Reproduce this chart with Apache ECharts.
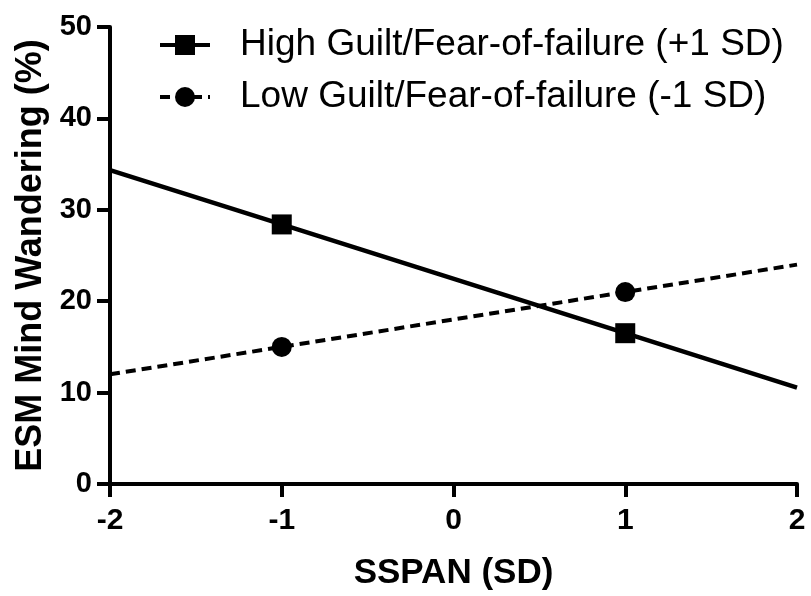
<!DOCTYPE html>
<html>
<head>
<meta charset="utf-8">
<script src="https://cdn.jsdelivr.net/npm/echarts@6/dist/echarts.min.js"></script>
<style>
  html, body { margin: 0; padding: 0; background: #fff; }
  #chart { width: 811px; height: 596px; }
</style>
</head>
<body>
<div id="chart"></div>
<script>
// SSPAN (SD) positions of the fitted lines
const xValues = [-2, -1, 1, 2];
// points that carry a marker
const markerX = [-1, 1];
const highValues = [34.35, 28.4, 16.5, 10.55];
const lowValues = [12.0, 15.0, 21.0, 24.0];
const seriesNames = ['High Guilt/Fear-of-failure (+1 SD)', 'Low Guilt/Fear-of-failure (-1 SD)'];

const font = 'Liberation Sans, Arial, sans-serif';

const toPairs = values => xValues.map((x, i) => [x, values[i]]);
const markerSize = val => (markerX.includes(val[0]) ? 20 : 0);

const chart = echarts.init(document.getElementById('chart'));

chart.setOption({
  animation: false,
  backgroundColor: '#fff',
  grid: {
    left: 110,
    right: 14,
    top: 27,
    bottom: 106
  },
  legend: {
    left: 153,
    top: 20,
    orient: 'vertical',
    itemWidth: 50,
    itemHeight: 25,
    itemGap: 12,
    lineStyle: { width: 4 },
    textStyle: {
      fontFamily: font,
      fontSize: 37,
      lineHeight: 40,
      color: '#000',
      padding: [0, 0, 0, 25]
    },
    data: seriesNames
  },
  xAxis: {
    type: 'value',
    min: -2,
    max: 2,
    interval: 1,
    name: 'SSPAN (SD)',
    nameLocation: 'middle',
    nameGap: 72,
    nameTextStyle: {
      fontFamily: font,
      fontWeight: 'bold',
      fontSize: 35,
      color: '#000'
    },
    axisLine: { onZero: false, lineStyle: { color: '#000', width: 4 } },
    axisTick: { length: 13, lineStyle: { color: '#000', width: 4 } },
    axisLabel: {
      margin: 22,
      fontFamily: font,
      fontWeight: 'bold',
      fontSize: 30,
      color: '#000'
    },
    splitLine: { show: false }
  },
  yAxis: {
    type: 'value',
    min: 0,
    max: 50,
    interval: 10,
    name: 'ESM Mind Wandering (%)',
    nameLocation: 'middle',
    nameRotate: 90,
    nameGap: 60,
    nameTextStyle: {
      fontFamily: font,
      fontWeight: 'bold',
      fontSize: 36,
      color: '#000'
    },
    axisLine: { show: true, onZero: false, lineStyle: { color: '#000', width: 4 } },
    axisTick: { show: true, length: 13, lineStyle: { color: '#000', width: 4 } },
    axisLabel: {
      margin: 18,
      fontFamily: font,
      fontWeight: 'bold',
      fontSize: 29,
      color: '#000'
    },
    splitLine: { show: false }
  },
  series: [
    {
      name: seriesNames[0],
      type: 'line',
      data: toPairs(highValues),
      symbol: 'rect',
      symbolSize: markerSize,
      itemStyle: { color: '#000' },
      lineStyle: { color: '#000', width: 4.5 }
    },
    {
      name: seriesNames[1],
      type: 'line',
      data: toPairs(lowValues),
      symbol: 'circle',
      symbolSize: markerSize,
      itemStyle: { color: '#000' },
      lineStyle: { color: '#000', width: 4, type: [10, 6] }
    }
  ]
});
</script>
</body>
</html>
